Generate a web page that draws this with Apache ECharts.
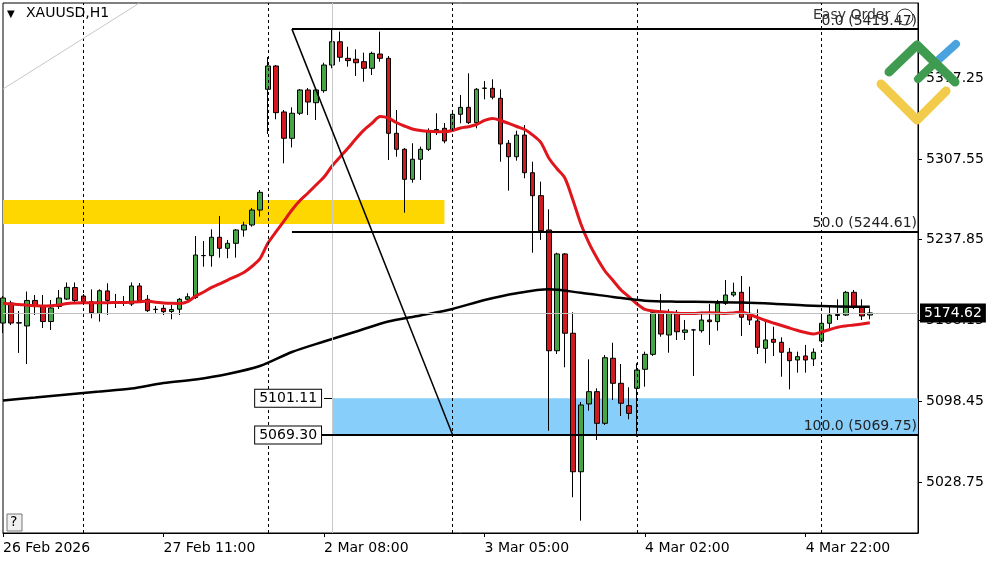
<!DOCTYPE html>
<html>
<head>
<meta charset="utf-8">
<script src="https://cdn.jsdelivr.net/npm/echarts@6.0.0/dist/echarts.min.js"></script>
<style>
html,body{margin:0;padding:0;background:#fff;}
#chart{width:1000px;height:562px;}
</style>
</head>
<body>
<div id="chart"></div>
<script>
// ---------- data ----------
const tickLabels = ['26 Feb 2026','27 Feb 11:00','2 Mar 08:00','3 Mar 05:00','4 Mar 02:00','4 Mar 22:00'];
const tickEvery = 20;
const slotCount = 115;
const priceTicks = [5028.75, 5098.45, 5168.15, 5237.85, 5307.55, 5377.25];
const priceMin = 4984.75, priceMax = 5442.03;

const opens = [5165.9,5183.2,5165.9,5163.4,5185.4,5180.2,5167.2,5180.2,5186.6,5196.5,
5189.2,5184.3,5174.3,5193.6,5183.2,5183.2,5182.3,5197.9,5186.4,5177.8,
5178.6,5175.9,5177.8,5186.4,5187.9,5224.0,5224.0,5239.9,5230.4,5234.7,
5246.2,5250.5,5263.4,5367.6,5387.7,5348.0,5325.3,5346.9,5367.0,5356.0,
5366.4,5388.5,5408.6,5394.3,5393.5,5391.4,5385.7,5398.0,5394.3,5329.6,
5315.8,5289.9,5307.2,5315.8,5331.6,5333.9,5332.5,5346.0,5352.0,5338.8,
5368.4,5368.4,5359.8,5321.0,5309.4,5328.1,5295.6,5275.8,5246.2,5142.0,
5225.5,5157.1,5037.6,5096.1,5106.7,5079.4,5135.5,5113.9,5094.6,5109.6,
5126.0,5138.9,5174.3,5155.6,5174.8,5157.9,5159.9,5159.3,5168.5,5167.1,
5182.9,5190.1,5192.4,5174.3,5167.7,5144.1,5151.9,5149.3,5140.7,5134.0,
5137.5,5134.9,5150.4,5165.7,5172.4,5172.8,5192.4,5179.5,5172.8];
const closes = [5187.5,5165.9,5166.2,5185.4,5180.2,5167.2,5178.9,5187.5,5196.7,5185.4,
5184.5,5174.8,5193.8,5185.4,5183.0,5183.6,5197.9,5184.9,5176.6,5177.6,
5175.7,5177.6,5186.4,5188.6,5224.6,5224.2,5239.9,5230.4,5234.7,5246.2,
5250.5,5263.4,5278.7,5387.7,5347.4,5325.3,5346.9,5367.0,5356.6,5367.0,
5388.5,5408.6,5395.2,5392.3,5390.5,5385.7,5398.6,5394.3,5329.6,5315.8,
5289.9,5307.2,5315.8,5331.9,5332.9,5323.0,5346.0,5352.0,5338.8,5367.6,
5368.6,5360.7,5320.4,5309.4,5328.1,5295.6,5275.8,5245.6,5142.0,5225.5,
5157.1,5037.6,5095.2,5106.7,5079.4,5136.0,5113.9,5096.7,5088.0,5125.4,
5138.9,5174.8,5156.4,5174.3,5158.4,5159.9,5160.0,5168.5,5167.1,5182.9,
5190.1,5192.4,5170.9,5168.5,5145.0,5151.3,5149.3,5140.7,5133.4,5136.9,
5134.0,5140.7,5165.7,5172.8,5173.3,5192.4,5179.5,5172.0,5174.62];
const lows = [5157.3,5164.2,5140.1,5130.6,5172.8,5161.6,5159.9,5178.0,5185.8,5183.6,
5183.2,5170.0,5167.1,5172.8,5178.9,5180.6,5180.6,5183.2,5175.4,5173.7,
5172.8,5169.1,5172.8,5185.4,5186.6,5214.5,5214.5,5222.3,5221.8,5222.3,
5240.4,5249.0,5257.7,5329.0,5341.7,5303.7,5317.4,5345.4,5345.4,5341.1,
5364.6,5385.7,5391.4,5387.1,5379.1,5374.1,5379.9,5391.4,5306.6,5309.4,
5261.1,5287.0,5289.3,5314.3,5328.1,5321.0,5330.7,5338.2,5337.6,5333.9,
5358.9,5358.9,5305.1,5280.1,5306.0,5290.8,5226.6,5237.6,5073.0,5139.2,
5127.7,5015.6,4995.4,5090.3,5065.0,5077.9,5099.5,5085.7,5082.9,5067.8,
5111.0,5137.5,5154.1,5140.3,5151.3,5151.3,5120.2,5157.6,5147.0,5159.3,
5181.5,5188.6,5154.7,5164.2,5139.2,5131.2,5137.5,5119.6,5108.7,5123.1,
5123.1,5128.8,5148.7,5161.4,5168.5,5172.0,5178.0,5168.5,5169.1];
const highs = [5189.2,5185.2,5176.3,5193.1,5190.1,5190.1,5185.8,5194.4,5200.9,5200.9,
5191.0,5195.0,5195.0,5200.2,5191.0,5189.2,5200.9,5200.5,5190.1,5180.6,
5181.5,5181.5,5187.5,5191.6,5241.0,5236.7,5246.8,5258.3,5237.6,5247.0,
5253.3,5265.2,5280.7,5395.4,5388.5,5349.7,5352.0,5367.8,5368.7,5368.7,
5390.5,5419.3,5417.3,5404.3,5402.1,5399.2,5400.0,5417.3,5396.3,5349.7,
5316.9,5321.0,5318.1,5333.9,5346.9,5338.5,5349.7,5362.7,5381.4,5368.7,
5374.7,5376.2,5367.6,5323.8,5331.9,5336.8,5305.1,5287.9,5264.0,5226.6,
5226.3,5175.2,5097.8,5134.6,5109.6,5138.3,5148.9,5130.6,5110.5,5131.2,
5141.2,5177.2,5191.0,5177.8,5177.2,5168.5,5160.8,5175.7,5182.3,5185.8,
5203.0,5200.7,5206.5,5197.3,5177.8,5167.1,5162.7,5153.6,5144.4,5141.2,
5147.0,5144.1,5171.1,5180.0,5186.4,5193.6,5194.4,5186.4,5178.6];

// fast moving average (red), one reading per bar
const fastMA = [5182.9,5182.3,5181.9,5181.3,5180.9,5180.6,5180.9,5181.5,5182.8,5183.2,
5183.4,5183.5,5183.5,5183.5,5183.6,5183.7,5183.8,5184.2,5184.9,5183.8,
5183.2,5182.9,5182.8,5184.3,5189.2,5192.7,5196.6,5199.6,5203.0,5206.1,
5209.5,5214.7,5221.2,5234.7,5244.5,5253.9,5263.4,5271.6,5278.1,5285.0,
5291.9,5301.4,5309.2,5316.9,5325.1,5332.5,5338.5,5344.1,5342.8,5338.9,
5335.9,5333.3,5332.0,5331.3,5331.0,5331.0,5332.0,5334.2,5335.3,5337.2,
5340.7,5342.4,5340.7,5338.1,5335.5,5332.9,5328.1,5321.7,5308.3,5299.2,
5291.0,5272.1,5251.4,5235.0,5222.0,5210.8,5202.6,5194.4,5188.4,5182.3,
5177.6,5176.3,5175.7,5175.0,5174.3,5174.1,5174.1,5174.6,5174.8,5174.6,
5174.1,5174.6,5175.4,5173.3,5170.7,5168.1,5165.9,5163.8,5161.6,5159.5,
5157.7,5156.4,5158.2,5160.3,5162.3,5163.4,5164.2,5165.1,5166.2];

// slow moving average (black), read every 4th bar
const slowMAStep = 4;
const slowMA = [5099.1,5101.7,5104.3,5106.8,5109.4,5114.2,5117.2,5121.9,5128.8,5140.9,
5150.0,5158.6,5167.2,5172.4,5178.0,5185.8,5191.6,5195.0,5192.0,5188.4,
5185.1,5184.3,5184.1,5183.6,5182.5,5181.0,5180.2,5180.0];

// drawings
const fibStartBar = 36, fibEndBar = 56;
const fibPrices = [5419.47, 5244.61, 5069.75];
const fibNames = ['0.0', '50.0', '100.0'];
const yellowZone = {from: 0, to: 55, top: 5272.1, bottom: 5251.4};
const blueZone = {from: 41, top: 5101.11, bottom: 5069.30};
const daySeparators = [10, 33, 56, 79, 102];
const weekStart = 41;
const lastPrice = 5174.62;
const trendLine = [[0, 5367.8], [17, 5442.0]];

// ---------- chart ----------
const categories = Array.from({length: slotCount}, (_, i) => String(i));
const lastSlot = slotCount - 1;
const candleData = opens.map((o, i) => [o, closes[i], lows[i], highs[i]]);
const slowData = new Array(opens.length).fill(null);
slowMA.forEach((v, k) => { slowData[k * slowMAStep] = v; });

const FONT = 'DejaVu Sans';
const chart = echarts.init(document.getElementById('chart'), null, {renderer: 'canvas'});

const fibLines = fibPrices.map((p, k) => [
  {coord: [fibStartBar, p], label: {show: true, position: 'insideEndTop', distance: 1,
    formatter: fibNames[k] + ' (' + p.toFixed(2) + ')', color: '#222', fontSize: 14, fontFamily: FONT}},
  {coord: [lastSlot, p]}
]);

const boxLabel = (p) => ({
  show: true, position: 'start', distance: 3, formatter: p.toFixed(2),
  color: '#000', fontSize: 14, fontFamily: FONT, backgroundColor: '#fff',
  borderColor: '#000', borderWidth: 1, padding: [2, 4, 1, 4]
});

const option = {
  animation: false,
  backgroundColor: '#fff',
  grid: {left: 3, top: 3, width: 915, height: 530, show: true, borderColor: '#000', borderWidth: 1, backgroundColor: 'transparent'},
  xAxis: {
    type: 'category', data: categories, boundaryGap: false,
    axisLine: {show: true, lineStyle: {color: '#000', width: 1}},
    axisTick: {show: true, length: 4, lineStyle: {color: '#000'},
      interval: (i) => i % tickEvery === 0 && i / tickEvery < tickLabels.length},
    axisLabel: {show: true, align: 'left', margin: 8, color: '#000', fontSize: 14, fontFamily: FONT,
      interval: (i) => i % tickEvery === 0 && i / tickEvery < tickLabels.length,
      formatter: (v, i) => tickLabels[i / tickEvery] || ''},
    splitLine: {show: false}
  },
  yAxis: {
    type: 'value', position: 'right', min: priceMin, max: priceMax, scale: true,
    axisLine: {show: true, lineStyle: {color: '#000', width: 1}},
    axisTick: {show: true, length: 4, lineStyle: {color: '#000'}, customValues: priceTicks},
    axisLabel: {show: true, margin: 8, color: '#000', fontSize: 14, fontFamily: FONT,
      customValues: priceTicks, formatter: (v) => v.toFixed(2)},
    splitLine: {show: false}
  },
  series: [
    {
      name: 'zones', type: 'line', data: [], z: 1, silent: true,
      markArea: {
        silent: true,
        data: [
          [{coord: [yellowZone.from, yellowZone.top], itemStyle: {color: '#FFD700'}}, {coord: [yellowZone.to, yellowZone.bottom]}],
          [{coord: [blueZone.from, blueZone.top], itemStyle: {color: '#87CEFA'}}, {coord: [lastSlot, blueZone.bottom]}]
        ]
      },
      markLine: {
        silent: true, symbol: ['none', 'none'], label: {show: false},
        data: [
          ...daySeparators.map(b => ({xAxis: b, lineStyle: {color: '#000', type: [3, 3], width: 1}})),
          {xAxis: weekStart, lineStyle: {color: '#c8c8c8', type: 'solid', width: 1}},
          {yAxis: lastPrice, lineStyle: {color: '#c0c0c0', type: 'solid', width: 1},
            label: {show: true, position: 'end', distance: 2, formatter: lastPrice.toFixed(2),
              color: '#fff', backgroundColor: '#000', padding: [3, 4, 2, 4], fontSize: 14, fontFamily: FONT}},
          [{coord: trendLine[0], lineStyle: {color: '#c8c8c8', width: 1, type: 'solid'}}, {coord: trendLine[1]}]
        ]
      }
    },
    {
      name: 'XAUUSD', type: 'candlestick', data: candleData, z: 2, barWidth: 5,
      itemStyle: {color: '#46A646', color0: '#D01A1F', borderColor: '#000', borderColor0: '#000', borderWidth: 1}
    },
    {
      name: 'MA fast', type: 'line', data: fastMA, z: 3, smooth: 0.3, showSymbol: false,
      lineStyle: {color: '#E0161C', width: 3}
    },
    {
      name: 'MA slow', type: 'line', data: slowData, z: 3, smooth: 0.3, showSymbol: false, connectNulls: true,
      lineStyle: {color: '#000', width: 2.5}
    },
    {
      name: 'drawings', type: 'line', data: [], z: 4, silent: true,
      markLine: {
        silent: true, symbol: ['none', 'none'],
        lineStyle: {color: '#000', width: 2, type: 'solid'},
        label: {show: false},
        data: [
          ...fibLines,
          [{coord: [fibStartBar, fibPrices[0]], lineStyle: {width: 1.5}}, {coord: [fibEndBar, fibPrices[2]]}],
          [{coord: [blueZone.from - 1, blueZone.top], lineStyle: {width: 1}, label: boxLabel(blueZone.top)}, {coord: [blueZone.from, blueZone.top]}],
          [{coord: [blueZone.from - 1, blueZone.bottom], lineStyle: {width: 1}, label: boxLabel(blueZone.bottom)}, {coord: [blueZone.from, blueZone.bottom]}]
        ]
      }
    }
  ],
  graphic: [
    {type: 'text', left: 7, top: 9, style: {text: '\u25BC', fontSize: 10, fill: '#000', fontFamily: FONT}, z: 100},
    {type: 'text', left: 26, top: 6, style: {text: 'XAUUSD,H1', fontSize: 14, fill: '#000', fontFamily: FONT}, z: 100},
    {type: 'text', left: 813, top: 8, style: {text: 'Easy Order', fontSize: 14, fill: '#333', fontFamily: FONT}, z: 100},
    {type: 'circle', shape: {cx: 905, cy: 17, r: 8}, style: {fill: 'none', stroke: '#333', lineWidth: 1}, z: 100},
    {type: 'polyline', shape: {points: [[881, 84], [917, 120], [946, 91]]},
      style: {stroke: '#F2CB4B', lineWidth: 9, fill: 'none', lineCap: 'round', lineJoin: 'round'}, z: 100},
    {type: 'polyline', shape: {points: [[935, 63], [956, 44]]},
      style: {stroke: '#4AA3DF', lineWidth: 8, fill: 'none', lineCap: 'round'}, z: 100},
    {type: 'polyline', shape: {points: [[889, 72], [917, 45], [955, 82]]},
      style: {stroke: '#3E9B4F', lineWidth: 9, fill: 'none', lineCap: 'round', lineJoin: 'round'}, z: 101},
    {type: 'polyline', shape: {points: [[918, 79], [935, 63]]},
      style: {stroke: '#3E9B4F', lineWidth: 8, fill: 'none', lineCap: 'round'}, z: 101},
    {type: 'rect', shape: {x: 7, y: 514, width: 15, height: 17}, style: {fill: '#f0f0f0', stroke: '#777', lineWidth: 1}, z: 100},
    {type: 'text', left: 10, top: 515, style: {text: '?', fontSize: 14, fill: '#000', fontFamily: FONT}, z: 101}
  ]
};
chart.setOption(option);
</script>
</body>
</html>
